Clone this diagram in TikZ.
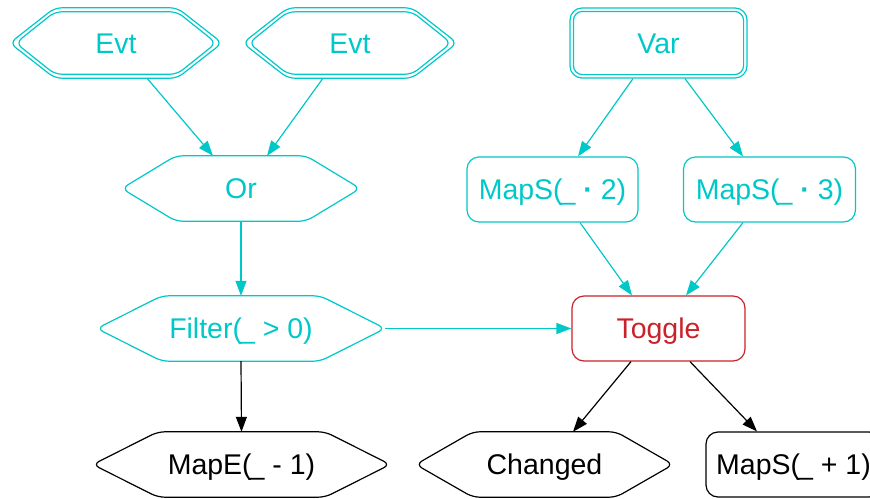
\documentclass[tikz,border=0pt]{standalone}
\usepackage{fontspec}
\setmainfont{Liberation Sans}
\usetikzlibrary{arrows.meta,calc}

\definecolor{flowcyan}{RGB}{0,200,200}
\definecolor{togglered}{RGB}{200,34,42}

\newcommand{\nodefont}{\fontsize{28.5}{34}\selectfont}
% placeholder argument, tucked against its opening parenthesis, and the product dot
\newcommand{\argph}{\kern-3pt\_}
\newcommand{\mdot}{{\bfseries ·}}

\tikzset{
  label font/.style={font=\nodefont, text height=20.5pt, text depth=0pt},
  hexnode/.style={shape=rectangle, draw=none, inner sep=0pt, label font},
  roundbox/.style={shape=rectangle, rounded corners=12pt, inner sep=0pt, line width=1.2pt, label font},
  outline/.style={line width=1.2pt, rounded corners=7pt},
  flow/.style={line width=1.2pt, -{Triangle[length=15pt,width=11pt]}},
}

% hexagon outline around a node: style, node, horizontal run of the slanted sides, inset
\newcommand{\hexoutline}[4]{%
  \draw[outline,#1]
    ($(#2.west)+(1.5*#4,0)$) -- ($(#2.north west)+(#3,#4)$) --
    ($(#2.north east)+(-#3,#4)$) -- ($(#2.east)+(-1.5*#4,0)$) --
    ($(#2.south east)+(-#3,-#4)$) -- ($(#2.south west)+(#3,-#4)$) -- cycle;}

\begin{document}
\begin{tikzpicture}[x=1pt,y=-1pt]
\clip (0,0) rectangle (870,498);

% sources
\node[hexnode, text=flowcyan, minimum width=212pt, minimum height=70pt] (evt1) at (116,43) {Evt};
\node[hexnode, text=flowcyan, minimum width=214pt, minimum height=70pt] (evt2) at (350,43) {Evt};
\node[roundbox, draw=flowcyan, text=flowcyan, minimum width=177pt, minimum height=70pt] (var) at (658.5,43) {Var};
\draw[flowcyan, line width=1.2pt, rounded corners=9pt]
  ($(var.north west)+(4,4)$) rectangle ($(var.south east)+(-4,-4)$);
\hexoutline{flowcyan}{evt1}{45}{0}
\hexoutline{flowcyan}{evt1}{45}{4}
\hexoutline{flowcyan}{evt2}{45}{0}
\hexoutline{flowcyan}{evt2}{45}{4}

% second row
\node[hexnode, text=flowcyan, minimum width=238pt, minimum height=65pt] (or) at (241,188.5) {Or};
\hexoutline{flowcyan}{or}{54}{0}
\node[roundbox, draw=flowcyan, text=flowcyan, minimum width=171pt, minimum height=65pt] (maps2) at (552.5,189.5) {MapS(\argph{} \mdot{} 2)};
\node[roundbox, draw=flowcyan, text=flowcyan, minimum width=172pt, minimum height=65pt] (maps3) at (769.5,189.5) {MapS(\argph{} \mdot{} 3)};

% third row
\node[hexnode, text=flowcyan, minimum width=288pt, minimum height=65pt] (filter) at (241,328.5) {Filter(\argph{} > 0)};
\hexoutline{flowcyan}{filter}{65}{0}
\node[roundbox, draw=togglered, text=togglered, minimum width=173pt, minimum height=65pt] (toggle) at (658.5,328.5) {Toggle};

% outputs
\node[hexnode, text=black, minimum width=297pt, minimum height=65pt] (mape) at (241.5,464.5) {MapE(\argph{} - 1)};
\hexoutline{black}{mape}{65}{0}
\node[hexnode, text=black, minimum width=257pt, minimum height=65pt] (changed) at (544.5,464.5) {Changed};
\hexoutline{black}{changed}{57}{0}
\node[roundbox, draw=black, text=black, minimum width=175pt, minimum height=65pt] (maps1) at (793.5,464.5) {MapS(\argph{} + 1)};

% connectors
\draw[flow, flowcyan] ($(evt1.south)+(31,0)$) -- ($(or.north)+(-28,0)$);
\draw[flow, flowcyan] ($(evt2.south)+(-27,0)$) -- ($(or.north)+(26,0)$);
\draw[flow, flowcyan] (or.south) -- (filter.north);
\draw[flow, flowcyan] ($(var.south)+(-25.5,0)$) -- ($(maps2.north)+(25.5,0)$);
\draw[flow, flowcyan] ($(var.south)+(26.5,0)$) -- ($(maps3.north)+(-26.5,0)$);
\draw[flow, flowcyan] ($(maps2.south)+(27.5,0)$) -- ($(toggle.north)+(-26.5,0)$);
\draw[flow, flowcyan] ($(maps3.south)+(-26.5,0)$) -- ($(toggle.north)+(27.5,0)$);
\draw[flow, flowcyan] (filter.east) -- (toggle.west);
\draw[flow, black] (filter.south) -- (mape.north);
\draw[flow, black] ($(toggle.south)+(-27.5,0)$) -- ($(changed.north)+(28.5,0)$);
\draw[flow, black] ($(toggle.south)+(31.5,0)$) -- ($(maps1.north)+(-36.5,0)$);
\end{tikzpicture}
\end{document}
